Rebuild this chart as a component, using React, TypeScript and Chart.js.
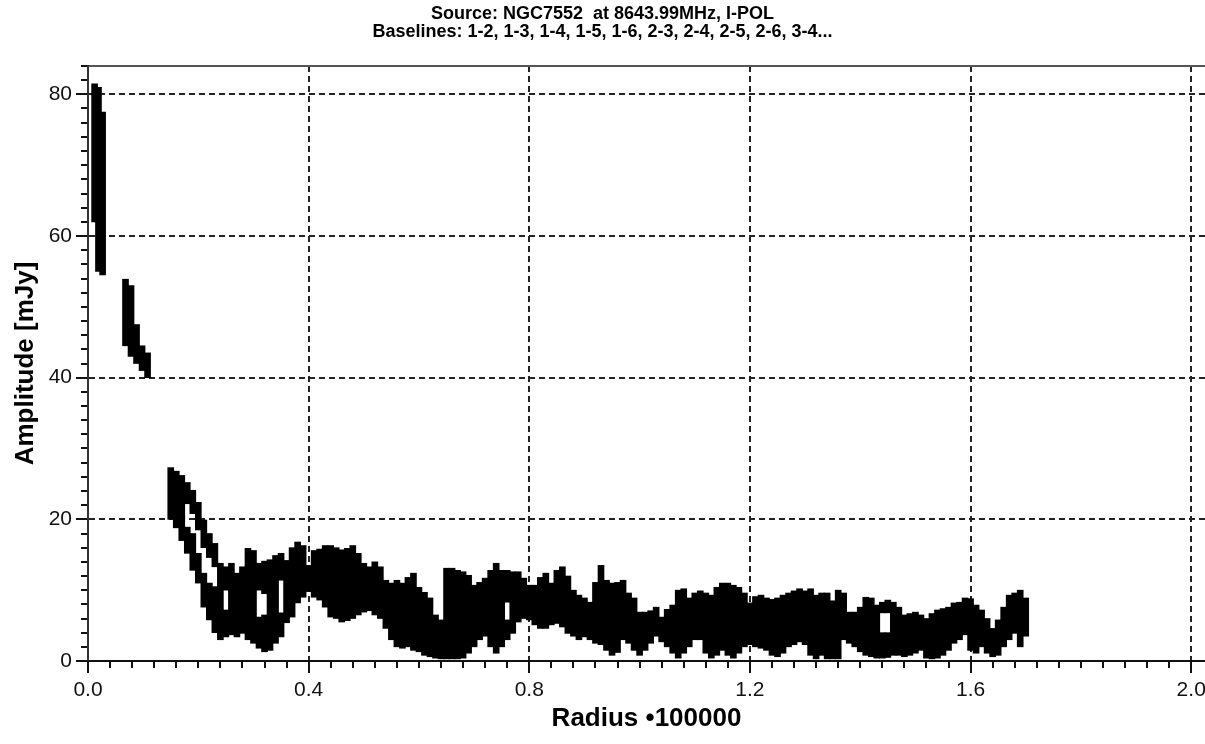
import React, { useEffect, useRef } from 'react';
import { Chart, registerables } from 'chart.js';

Chart.register(...registerables);

const FONT = "'Liberation Sans', Arial, sans-serif";

const titleLines = [
  'Source: NGC7552  at 8643.99MHz, I-POL',
  'Baselines: 1-2, 1-3, 1-4, 1-5, 1-6, 2-3, 2-4, 2-5, 2-6, 3-4...',
];
const xAxisTitle = 'Radius \u2022100000';
const yAxisTitle = 'Amplitude [mJy]';

const xMin = 0;
const xMax = 2.025;
const xMajorStep = 0.4;
const xMinorStep = 0.04;
const yMin = 0;
const yMax = 84;
const yMajorStep = 20;
const yMinorStep = 2;

// Envelope of the dense cloud of visibility points, column by column
const bandRadius = [
  0.012, 0.019, 0.0265, 0.068, 0.078, 0.088, 0.098, 0.108,
  0.15, 0.16, 0.17, 0.18, 0.19, 0.2, 0.21, 0.22, 0.23, 0.24,
  0.25, 0.26, 0.27, 0.28, 0.29, 0.3, 0.31, 0.32, 0.33, 0.34,
  0.35, 0.36, 0.37, 0.38, 0.39, 0.4, 0.41, 0.42, 0.43, 0.44,
  0.45, 0.46, 0.47, 0.48, 0.49, 0.5, 0.51, 0.52, 0.53, 0.54,
  0.55, 0.56, 0.57, 0.58, 0.59, 0.6, 0.61, 0.62, 0.63, 0.64,
  0.65, 0.66, 0.67, 0.68, 0.69, 0.7, 0.71, 0.72, 0.73, 0.74,
  0.75, 0.76, 0.77, 0.78, 0.79, 0.8, 0.81, 0.82, 0.83, 0.84,
  0.85, 0.86, 0.87, 0.88, 0.89, 0.9, 0.91, 0.92, 0.93, 0.94,
  0.95, 0.96, 0.97, 0.98, 0.99, 1.0, 1.01, 1.02, 1.03, 1.04,
  1.05, 1.06, 1.07, 1.08, 1.09, 1.1, 1.11, 1.12, 1.13, 1.14,
  1.15, 1.16, 1.17, 1.18, 1.19, 1.2, 1.21, 1.22, 1.23, 1.24,
  1.25, 1.26, 1.27, 1.28, 1.29, 1.3, 1.31, 1.32, 1.33, 1.34,
  1.35, 1.36, 1.37, 1.38, 1.39, 1.4, 1.41, 1.42, 1.43, 1.44,
  1.45, 1.46, 1.47, 1.48, 1.49, 1.5, 1.51, 1.52, 1.53, 1.54,
  1.55, 1.56, 1.57, 1.58, 1.59, 1.6, 1.61, 1.62, 1.63, 1.64,
  1.65, 1.66, 1.67, 1.68, 1.69, 1.7,
];
const bandLow = [
  62, 55, 54.5, 44.5, 43, 42, 41, 40,
  20, 18.8, 17, 15.2, 12.8, 11, 7.6, 5.8, 4, 3,
  3.4, 3.7, 3.4, 3.9, 3, 2.5, 1.8, 1.3, 1.5, 2.5,
  3.4, 5.4, 6.2, 8.2, 9, 9.8, 9, 8.6, 7.6, 6.2,
  6, 5.5, 5.7, 6, 6.5, 6.9, 7.1, 6.5, 6, 4.6,
  3, 2, 1.8, 2, 1.5, 1.3, 0.8, 0.6, 0.4, 0.3,
  0.3, 0.3, 0.3, 0.4, 1.1, 2, 3, 3.5, 2, 1.1,
  2, 3, 3.9, 5.5, 6, 5.8, 5.1, 4.6, 4.6, 5.1,
  5.3, 4.8, 3.9, 3.5, 3, 3.4, 3, 2.5, 2.3, 1.5,
  0.8, 1.2, 3, 2.5, 1.5, 0.8, 1.5, 2.5, 3.5, 2.7,
  2, 1.1, 0.4, 1.1, 2, 3, 3, 1.1, 0.4, 0.8,
  1.5, 0.8, 0.4, 1.1, 2, 2.3, 2, 1.8, 1.5, 0.8,
  0.6, 1.1, 2, 2.3, 2.7, 2.3, 0.8, 0.3, 0.8, 0.3,
  0.3, 0.3, 3, 2.5, 2, 1.3, 0.8, 0.6, 0.4, 0.4,
  0.5, 0.8, 0.8, 0.6, 0.8, 1.1, 1.5, 0.4, 0.3, 0.4,
  0.8, 1.5, 2.5, 3, 3.7, 1.5, 1.1, 2, 1.1, 0.6,
  0.8, 2, 3, 3.9, 2, 3.5,
];
const bandHigh = [
  81.5, 81, 77.5, 53.9, 53, 47.5, 44.5, 43.5,
  27.3, 26.8, 26.2, 18.9, 18, 15.2, 12.4, 11, 10.5, 13.8,
  7.2, 13.8, 12.4, 13.3, 15.9, 15.6, 6.2, 6.5, 14.3, 14.9,
  6.8, 14.2, 16, 16.8, 16.3, 13.5, 15.6, 15.8, 16.3, 16.3,
  16, 15.7, 15.9, 16.3, 15.2, 13.8, 13.3, 14, 13.3, 11.4,
  11, 11.4, 11, 11.8, 12.4, 10.4, 9.7, 8.9, 6.5, 5.8,
  13.1, 13.1, 12.8, 12.6, 12.1, 10.7, 11.1, 11.7, 12.8, 13.8,
  12.8, 5.8, 12.6, 12.6, 11.7, 10.7, 10.7, 11.8, 12.4, 11,
  12.8, 13.3, 12, 10, 9.3, 8.9, 8.3, 11.1, 13.5, 11.4,
  11, 11.1, 11.4, 9.6, 8.9, 6.9, 6.9, 7.1, 7.6, 6.2,
  7.3, 7.9, 10, 10.2, 8.9, 9.6, 9.9, 9.6, 9.3, 10.4,
  11, 11, 10.7, 10.4, 9.6, 8.2, 9.1, 9.3, 8.9, 8.7,
  8.9, 9.3, 9.6, 9.9, 10.2, 9.9, 10.2, 9.3, 9.6, 9.6,
  8.5, 10, 9.6, 6.9, 6.9, 7.6, 9, 8.9, 7.9, 4,
  4, 8.3, 7.6, 6.5, 6.7, 6.9, 6.5, 6, 6.7, 7.2,
  7.4, 7.6, 8.2, 8.3, 8.9, 8.8, 7.9, 7.2, 6, 4.6,
  5.8, 7.6, 9.3, 9.6, 10, 8.9,
];

// Second (upper) track where the cloud splits into two strands
const splitRadius = [0.18, 0.19, 0.2, 0.21, 0.22, 0.23, 0.25, 0.31, 0.32, 0.35, 0.76, 1.44, 1.45];
const splitLow = [22.2, 20.8, 18.5, 16, 14.6, 13.3, 10, 10, 9.5, 11.4, 8.3, 6.8, 6.8];
const splitHigh = [25.2, 24.1, 22.4, 19.9, 18, 16.6, 13.3, 13.8, 14.1, 15.2, 12.8, 8.3, 8.6];

const isMajor = (v: number, step: number) => Math.abs(v / step - Math.round(v / step)) < 1e-6;

export default function App() {
  const ref = useRef<HTMLCanvasElement | null>(null);

  useEffect(() => {
    const canvas = ref.current;
    if (!canvas) return;

    const gridColor = (ctx: any, step: number) => {
      if (!ctx.tick) return 'transparent';
      const v = ctx.tick.value;
      return isMajor(v, step) && Math.abs(v) > 1e-9 ? '#222' : 'transparent';
    };
    const gridWidth = (ctx: any, step: number) => {
      if (!ctx.tick) return 0;
      const v = ctx.tick.value;
      return isMajor(v, step) && Math.abs(v) > 1e-9 ? 2 : 0;
    };
    const gridDash = (ctx: any, step: number) => {
      if (!ctx.tick) return [];
      return isMajor(ctx.tick.value, step) ? [6, 4] : [];
    };

    const chart = new Chart(canvas, {
      type: 'bar',
      data: {
        datasets: [
          {
            label: 'Amplitude',
            data: bandRadius.map((x, i) => ({ x, y: [bandLow[i], bandHigh[i]] })),
            backgroundColor: '#000',
            borderWidth: 0,
            barThickness: 6,
            grouped: false,
          } as any,
          {
            label: 'Amplitude (second strand)',
            data: splitRadius.map((x, i) => ({ x, y: [splitLow[i], splitHigh[i]] })),
            backgroundColor: '#000',
            borderWidth: 0,
            barThickness: 6,
            grouped: false,
          } as any,
        ],
      },
      options: {
        responsive: false,
        animation: false,
        layout: { padding: 0 },
        plugins: {
          legend: { display: false },
          tooltip: { enabled: false },
          title: {
            display: true,
            text: titleLines,
            color: '#000',
            font: { family: FONT, size: 18, weight: 'bold', lineHeight: 1.0 },
            padding: { top: 5, bottom: 25 },
          },
        },
        scales: {
          x: {
            type: 'linear',
            position: 'bottom',
            min: xMin,
            max: xMax,
            offset: false,
            afterFit: (s: any) => {
              s.height = 83;
              s.paddingRight = 0;
              s.paddingLeft = 0;
            },
            ticks: {
              stepSize: xMinorStep,
              autoSkip: false,
              includeBounds: false,
              maxRotation: 0,
              minRotation: 0,
              padding: 5,
              color: '#111',
              font: { family: FONT, size: 21 },
              callback: (v: any) => (isMajor(Number(v), xMajorStep) ? Number(v).toFixed(1) : ''),
            },
            grid: {
              offset: false,
              drawOnChartArea: true,
              drawTicks: true,
              tickLength: 12,
              tickWidth: 2,
              tickColor: '#111',
              color: (ctx: any) => gridColor(ctx, xMajorStep),
              lineWidth: (ctx: any) => gridWidth(ctx, xMajorStep),
              tickBorderDash: (ctx: any) =>
                ctx.tick && isMajor(ctx.tick.value, xMajorStep) ? [] : [6, 100],
            },
            border: {
              display: true,
              color: '#111',
              width: 2,
              dash: (ctx: any) => gridDash(ctx, xMajorStep),
            },
            title: {
              display: true,
              text: xAxisTitle,
              color: '#000',
              font: { family: FONT, size: 26, weight: 'bold' },
              padding: { top: 0, bottom: 10 },
            },
          } as any,
          x2: {
            type: 'linear',
            position: 'top',
            min: xMin,
            max: xMax,
            offset: false,
            afterFit: (s: any) => {
              s.height = 0;
              s.paddingLeft = 0;
              s.paddingRight = 0;
            },
            ticks: { display: false },
            grid: { display: false, drawTicks: false, drawOnChartArea: false },
            border: { display: true, color: '#555', width: 2 },
          } as any,
          y: {
            type: 'linear',
            position: 'left',
            min: yMin,
            max: yMax,
            afterFit: (s: any) => {
              s.width = 88;
              s.paddingTop = 0;
              s.paddingBottom = 0;
            },
            ticks: {
              stepSize: yMinorStep,
              autoSkip: false,
              padding: 4,
              color: '#111',
              font: { family: FONT, size: 21 },
              callback: (v: any) => (isMajor(Number(v), yMajorStep) ? String(Math.round(Number(v))) : ''),
            },
            grid: {
              drawOnChartArea: true,
              drawTicks: true,
              tickLength: 12,
              tickWidth: 2,
              tickColor: '#111',
              color: (ctx: any) => gridColor(ctx, yMajorStep),
              lineWidth: (ctx: any) => gridWidth(ctx, yMajorStep),
              tickBorderDash: (ctx: any) =>
                ctx.tick && isMajor(ctx.tick.value, yMajorStep) ? [] : [0, 5, 7, 100],
            },
            border: {
              display: true,
              color: '#333',
              width: 2,
              dash: (ctx: any) => gridDash(ctx, yMajorStep),
            },
            title: {
              display: true,
              text: yAxisTitle,
              color: '#000',
              font: { family: FONT, size: 26, weight: 'bold' },
              padding: { top: 10, bottom: 0 },
            },
          } as any,
        },
      } as any,
    });

    return () => chart.destroy();
  }, []);

  return (
    <div style={{ position: 'fixed', left: 0, top: 0, width: 1205, height: 744, background: '#fff' }}>
      <canvas ref={ref} width={1205} height={744} style={{ display: 'block' }} />
    </div>
  );
}
